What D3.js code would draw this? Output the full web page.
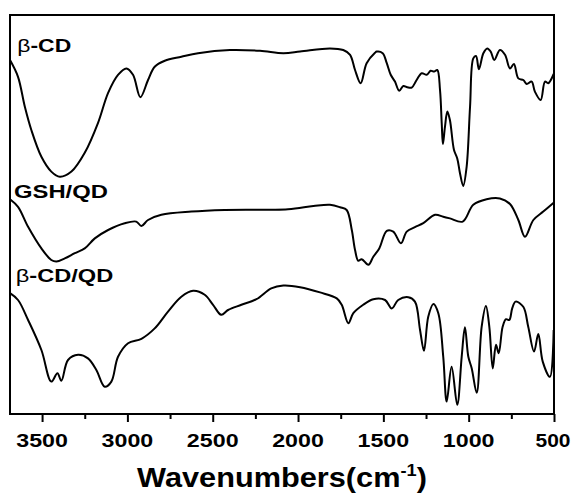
<!DOCTYPE html>
<html>
<head>
<meta charset="utf-8">
<script src="https://cdn.jsdelivr.net/npm/d3@7"></script>
<style>
  html, body { margin: 0; padding: 0; background: #fff; }
  svg { display: block; }
  text { font-family: "Liberation Sans", Arial, sans-serif; font-weight: bold; fill: #000; }
</style>
</head>
<body>
<svg id="chart" width="575" height="493"></svg>
<script>
// ---- Data (wavenumber cm^-1, transmittance in arbitrary units) ----
const betaCD = [
  [3688,88.5],[3641,84.3],[3601,76.8],[3563,71.0],[3504,64.3],[3446,60.6],[3396,59.3],[3328,60.6],
  [3250,65.3],[3172,72.8],[3113,80.3],[3055,84.8],[3006,86.4],[2967,84.8],[2924,79.2],[2879,83.5],
  [2840,86.8],[2781,88.3],[2684,89.3],[2586,90.2],[2399,91.0],[2223,90.8],[2086,90.2],[1988,90.6],
  [1813,91.4],[1735,91.0],[1695,89.8],[1666,86.0],[1633,82.7],[1598,87.7],[1549,90.3],[1539,90.6],
  [1504,90.2],[1480,87.7],[1457,84.8],[1432,83.1],[1407,80.8],[1383,82.0],[1360,81.7],[1334,81.6],
  [1305,83.5],[1275,85.2],[1246,84.8],[1223,85.8],[1203,85.6],[1184,86.0],[1168,81.0],[1158,72.7],
  [1151,67.5],[1139,71.8],[1125,75.6],[1110,73.5],[1086,66.0],[1067,63.9],[1051,60.2],[1032,57.0],
  [1012,61.8],[992,76.8],[973,88.9],[957,89.5],[940,86.2],[914,90.2],[891,91.4],[871,90.6],
  [850,88.5],[817,91.0],[787,89.8],[758,86.4],[735,87.5],[709,83.9],[680,83.5],[660,82.5],
  [631,83.1],[612,80.6],[578,78.5],[553,83.1],[534,82.7],[502,85.0]
];
const gshQD = [
  [3688,53.7],[3641,51.8],[3582,46.8],[3504,41.4],[3446,38.5],[3416,38.1],[3367,38.9],[3308,40.2],
  [3250,41.4],[3191,43.9],[3113,46.0],[3016,47.7],[2948,48.1],[2918,47.0],[2879,48.5],[2801,49.8],
  [2625,50.6],[2430,51.0],[2059,51.2],[1910,52.0],[1813,52.3],[1754,51.7],[1715,51.0],[1685,46.0],
  [1666,41.0],[1647,38.3],[1627,38.7],[1588,37.3],[1559,39.3],[1524,41.4],[1480,45.8],[1442,45.6],
  [1397,42.7],[1363,45.6],[1315,46.7],[1266,47.7],[1197,49.8],[1149,49.3],[1110,48.9],[1035,48.1],
  [973,52.3],[895,53.7],[817,53.9],[758,52.5],[709,48.5],[670,44.3],[621,48.5],[563,50.6],[502,52.8]
];
const betaCDQD = [
  [3688,30.2],[3641,28.5],[3582,23.5],[3504,16.0],[3446,8.1],[3410,10.2],[3387,8.3],[3348,13.5],
  [3289,14.8],[3231,13.9],[3182,11.0],[3133,6.8],[3094,8.1],[3055,14.3],[2996,17.7],[2918,18.8],
  [2840,21.4],[2762,25.6],[2684,29.3],[2615,30.8],[2547,29.8],[2498,27.3],[2450,24.8],[2410,26.0],
  [2332,27.3],[2244,28.7],[2157,31.4],[2086,32.1],[1988,31.7],[1871,30.4],[1773,28.9],[1744,27.3],
  [1705,22.7],[1676,25.2],[1618,27.3],[1559,28.7],[1490,28.5],[1451,26.4],[1413,28.5],[1354,29.2],
  [1315,28.1],[1285,21.0],[1262,15.8],[1237,24.3],[1207,27.5],[1178,25.2],[1149,14.3],[1129,3.1],
  [1100,11.8],[1067,2.3],[1041,14.3],[1022,21.7],[1002,14.3],[982,11.4],[953,5.3],[924,21.8],
  [899,27.0],[879,21.8],[859,11.4],[840,17.3],[824,15.2],[801,21.8],[781,23.7],[762,23.5],
  [745,26.4],[725,28.1],[680,26.8],[651,21.8],[617,15.6],[592,20.0],[566,13.1],[524,9.3],[502,21.0]
];
const seriesNames = ["β-CD", "GSH/QD", "β-CD/QD"];
const majorTicks = [3500, 3000, 2500, 2000, 1500, 1000, 500];
const minorTicks = [3250, 2750, 2250, 1750, 1250, 750];
const xDomain = [3688, 500];
const yDomain = [0, 100];
const xTitle = "Wavenumbers(cm";
const xTitleSup = "-1";

// ---- Layout ----
const svg = d3.select("#chart");
const pL = 10, pR = 554, pT = 15, pB = 414;
const x = d3.scaleLinear().domain(xDomain).range([pL, pR]);
const y = d3.scaleLinear().domain(yDomain).range([pB, 14]);

const line = d3.line()
  .x(d => x(d[0])).y(d => y(d[1]))
  .curve(d3.curveCatmullRom.alpha(0.5));

svg.append("g").selectAll("path")
  .data([betaCD, gshQD, betaCDQD])
  .join("path")
  .attr("d", line)
  .attr("fill", "none")
  .attr("stroke", "#000")
  .attr("stroke-width", 2)
  .attr("stroke-linejoin", "round");

// frame
svg.append("rect")
  .attr("x", pL).attr("y", pT)
  .attr("width", pR - pL).attr("height", pB - pT)
  .attr("fill", "none").attr("stroke", "#000").attr("stroke-width", 2);

// bottom axis
const axis = d3.axisBottom(x).tickValues(majorTicks).tickSize(8).tickFormat(d3.format("d"));
const gx = svg.append("g").attr("transform", `translate(0,${pB})`).call(axis);
gx.select(".domain").remove();
gx.selectAll(".tick line").attr("stroke", "#000").attr("stroke-width", 2);
gx.selectAll(".tick text").remove();
const axisMinor = d3.axisBottom(x).tickValues(minorTicks).tickSize(5).tickFormat("");
const gm = svg.append("g").attr("transform", `translate(0,${pB})`).call(axisMinor);
gm.select(".domain").remove();
gm.selectAll(".tick line").attr("stroke", "#000").attr("stroke-width", 2);

function fit(sel, w) {
  const L = sel.node().getBBox().width;
  return L > 0 ? w / L : 1;
}

// tick labels
majorTicks.forEach(t => {
  const g = svg.append("g").attr("transform", `translate(${x(t) - (t === 500 ? 1 : 0)},447)`);
  const tx = g.append("text").attr("text-anchor", "middle").attr("font-size", 19).text(d3.format("d")(t));
  const w = String(t).length === 4 ? 51.7 : 35;
  tx.attr("transform", `scale(${fit(tx, w)},1)`);
});

// axis title
{
  const g = svg.append("g").attr("transform", "translate(282,486.5)");
  const tt = g.append("text").attr("text-anchor", "middle").attr("font-size", 27);
  tt.append("tspan").text(xTitle);
  tt.append("tspan").attr("font-size", 16).attr("dy", -11).text(xTitleSup);
  tt.append("tspan").attr("dy", 11).text(")");
  tt.attr("transform", `scale(${fit(tt, 290)},1)`);
}

// series labels
const labelPos = [[17.3, 52, 54], [14, 198.3, 94], [15.7, 282.3, 97.6]];
seriesNames.forEach((name, i) => {
  const [lx, ly, w] = labelPos[i];
  const g = svg.append("g").attr("transform", `translate(${lx},${ly})`);
  const t = g.append("text").attr("font-size", 19);
  if (name.startsWith("β")) {
    t.append("tspan").attr("font-weight", "normal").text("β");
    t.append("tspan").text(name.slice(1));
  } else {
    t.text(name);
  }
  t.attr("transform", `scale(${fit(t, w)},1)`);
});
</script>
</body>
</html>
